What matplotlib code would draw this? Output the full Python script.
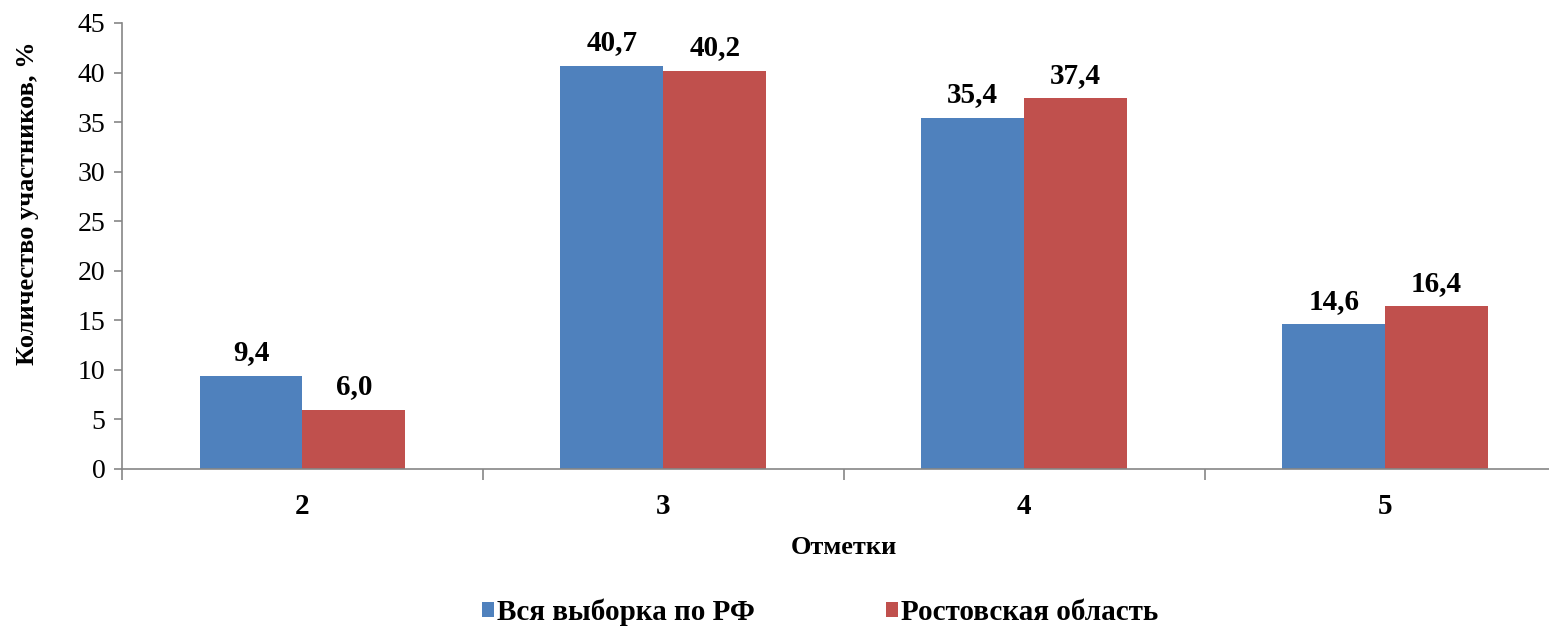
import matplotlib

matplotlib.use("Agg")
import matplotlib.pyplot as plt
import numpy as np

plt.rcParams["font.family"] = ["Liberation Serif", "DejaVu Serif"]

# data
categories = ["2", "3", "4", "5"]
series_names = ["Вся выборка по РФ", "Ростовская область"]
rf_values = [9.4, 40.7, 35.4, 14.6]
rostov_values = [6.0, 40.2, 37.4, 16.4]
colors = ["#4F81BD", "#C0504D"]
y_ticks = [0, 5, 10, 15, 20, 25, 30, 35, 40, 45]

W, H = 1549, 632
fig = plt.figure(figsize=(W / 100, H / 100), dpi=100)
ax = fig.add_axes([122 / W, (H - 469) / H, (1565.5 - 122) / W, (469 - 23) / H])

x = np.arange(len(categories))
width = 0.285
grey = "#868686"

bars = []
for i, (vals, name) in enumerate(zip([rf_values, rostov_values], series_names)):
    offset = (i - 0.5) * width
    b = ax.bar(x + offset, vals, width, color=colors[i], label=name, zorder=2)
    bars.append(b)
    for rect, v in zip(b, vals):
        ax.annotate(f"{v:.1f}".replace(".", ","),
                    (rect.get_x() + rect.get_width() / 2, rect.get_height()),
                    xytext=(0, 7), textcoords="offset points",
                    ha="center", va="bottom", fontsize=21, fontweight="bold")

ax.set_xlim(-0.5, len(categories) - 0.5)
ax.set_ylim(0, 45)
ax.set_yticks(y_ticks)
ax.set_yticklabels([str(t) for t in y_ticks], fontsize=20)

# category ticks between groups, labels at centers
ax.set_xticks(np.arange(len(categories) + 1) - 0.5)
ax.set_xticklabels([])
ax.set_xticks(x, minor=True)
ax.set_xticklabels(categories, minor=True, fontsize=21, fontweight="bold")
ax.tick_params(axis="x", which="minor", length=0, pad=17)
ax.tick_params(axis="x", which="major", length=8, width=1.2, color=grey, direction="out")
ax.tick_params(axis="y", length=6, width=1.2, color=grey, direction="out", pad=6)

for side in ["top", "right"]:
    ax.spines[side].set_visible(False)
for side in ["left", "bottom"]:
    ax.spines[side].set_color(grey)
    ax.spines[side].set_linewidth(1.2)

fig.text(28 / W, (H - 203) / H, "Количество участников, %", rotation=90,
         ha="center", va="center", fontsize=19, fontweight="bold")
ax.set_xlabel("Отметки", fontsize=19, fontweight="bold", labelpad=12)

fig.legend(handles=bars, labels=series_names, loc="center",
           bbox_to_anchor=(820 / W, (H - 612) / H), ncol=2, frameon=False,
           prop={"size": 21, "weight": "bold"}, handlelength=0.42, handleheight=0.42,
           handletextpad=0.08, columnspacing=4.5)

fig.savefig("out.png", dpi=100, facecolor="white")
